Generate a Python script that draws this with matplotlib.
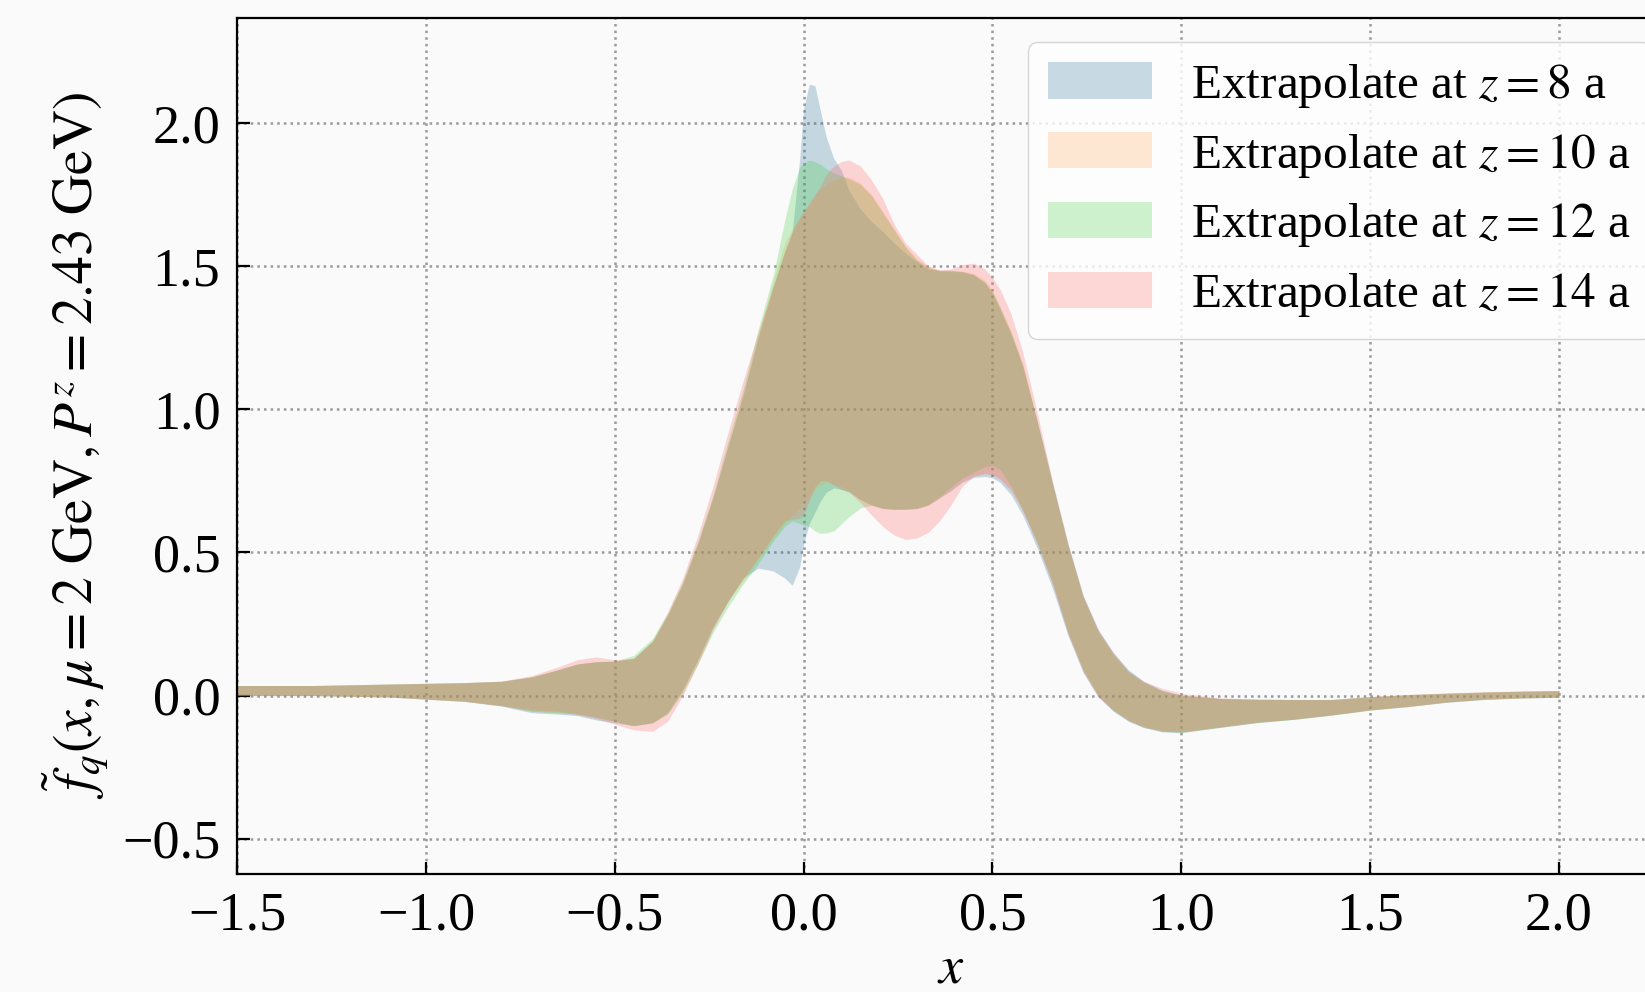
import numpy as np
import matplotlib.pyplot as plt

plt.rcParams['font.family'] = ['Liberation Serif', 'DejaVu Serif']
plt.rcParams['mathtext.fontset'] = 'stix'

# momentum fraction grid shared by all bands
x = np.array([-1.5, -1.3, -1.1, -0.9, -0.8, -0.72, -0.65, -0.6, -0.55, -0.5,
              -0.45, -0.4, -0.36, -0.32, -0.28, -0.24, -0.2, -0.16, -0.12, -0.08,
              -0.05, -0.03, -0.01, 0.0, 0.015, 0.03, 0.045, 0.06, 0.08, 0.1,
              0.12, 0.15, 0.18, 0.21, 0.24, 0.27, 0.3, 0.33, 0.36, 0.39,
              0.42, 0.45, 0.48, 0.5, 0.52, 0.55, 0.58, 0.62, 0.66, 0.7,
              0.74, 0.78, 0.82, 0.86, 0.9, 0.95, 1.0, 1.1, 1.2, 1.3,
              1.4, 1.5, 1.6, 1.7, 1.8, 1.9, 2.0])

# z = 8 a
up_z8 = [0.035, 0.035, 0.04, 0.045, 0.05, 0.065, 0.09, 0.11, 0.118, 0.12,
         0.13, 0.19, 0.28, 0.39, 0.53, 0.69, 0.87, 1.05, 1.25, 1.43,
         1.55, 1.62, 1.88, 2.05, 2.135, 2.13, 2.04, 1.95, 1.875, 1.835,
         1.765, 1.7, 1.655, 1.62, 1.58, 1.545, 1.515, 1.49, 1.485, 1.485,
         1.48, 1.47, 1.44, 1.405, 1.35, 1.26, 1.15, 0.95, 0.74, 0.53,
         0.35, 0.23, 0.15, 0.09, 0.05, 0.018, 0.002, -0.01, -0.013, -0.014,
         -0.014, -0.004, 0.003, 0.008, 0.012, 0.015, 0.017]
lo_z8 = [0.0, 0.0, -0.005, -0.02, -0.037, -0.06, -0.065, -0.07, -0.085, -0.095,
         -0.105, -0.095, -0.06, 0.02, 0.125, 0.24, 0.33, 0.41, 0.445, 0.435,
         0.41, 0.385, 0.45, 0.53, 0.6, 0.64, 0.68, 0.71, 0.725, 0.72,
         0.712, 0.685, 0.665, 0.653, 0.65, 0.65, 0.653, 0.665, 0.69, 0.715,
         0.745, 0.762, 0.765, 0.76, 0.745, 0.7, 0.63, 0.51, 0.37, 0.21,
         0.08, -0.005, -0.055, -0.09, -0.112, -0.127, -0.13, -0.112, -0.095, -0.083,
         -0.068, -0.051, -0.039, -0.024, -0.014, -0.009, -0.006]

# z = 10 a
up_z10 = [0.035, 0.035, 0.04, 0.045, 0.05, 0.065, 0.09, 0.11, 0.118, 0.12,
          0.13, 0.19, 0.28, 0.39, 0.53, 0.69, 0.87, 1.05, 1.26, 1.45,
          1.58, 1.63, 1.67, 1.69, 1.715, 1.745, 1.77, 1.785, 1.8, 1.81,
          1.81, 1.79, 1.75, 1.69, 1.63, 1.57, 1.525, 1.5, 1.487, 1.485,
          1.483, 1.475, 1.45, 1.415, 1.36, 1.27, 1.16, 0.95, 0.73, 0.52,
          0.34, 0.22, 0.14, 0.08, 0.045, 0.015, 0.0, -0.01, -0.013, -0.014,
          -0.014, -0.004, 0.003, 0.008, 0.012, 0.015, 0.017]
lo_z10 = [0.0, 0.0, -0.005, -0.02, -0.035, -0.055, -0.06, -0.065, -0.075, -0.09,
          -0.105, -0.095, -0.06, 0.02, 0.125, 0.24, 0.33, 0.4, 0.475, 0.55,
          0.6, 0.63, 0.655, 0.67, 0.695, 0.72, 0.735, 0.745, 0.74, 0.73,
          0.717, 0.685, 0.665, 0.653, 0.65, 0.65, 0.653, 0.665, 0.69, 0.72,
          0.75, 0.77, 0.776, 0.772, 0.76, 0.72, 0.65, 0.53, 0.39, 0.22,
          0.09, 0.0, -0.05, -0.085, -0.108, -0.123, -0.127, -0.11, -0.093, -0.082,
          -0.067, -0.05, -0.038, -0.023, -0.013, -0.008, -0.006]

# z = 12 a
up_z12 = [0.035, 0.035, 0.04, 0.045, 0.05, 0.065, 0.09, 0.11, 0.118, 0.12,
          0.14, 0.2, 0.29, 0.4, 0.54, 0.7, 0.89, 1.07, 1.28, 1.47,
          1.66, 1.77, 1.845, 1.86, 1.87, 1.865, 1.855, 1.84, 1.825, 1.815,
          1.805, 1.785, 1.745, 1.685, 1.625, 1.565, 1.52, 1.495, 1.483, 1.48,
          1.48, 1.47, 1.445, 1.41, 1.355, 1.265, 1.155, 0.95, 0.735, 0.525,
          0.345, 0.225, 0.145, 0.085, 0.048, 0.016, 0.001, -0.01, -0.013, -0.014,
          -0.014, -0.004, 0.003, 0.008, 0.012, 0.015, 0.017]
lo_z12 = [0.0, 0.0, -0.005, -0.02, -0.035, -0.055, -0.06, -0.065, -0.075, -0.09,
          -0.105, -0.095, -0.065, 0.01, 0.11, 0.22, 0.31, 0.39, 0.46, 0.54,
          0.59, 0.61, 0.6, 0.595, 0.59, 0.575, 0.566, 0.568, 0.575, 0.6,
          0.624, 0.655, 0.665, 0.655, 0.652, 0.652, 0.655, 0.668, 0.695, 0.728,
          0.76, 0.78, 0.8, 0.805, 0.79, 0.73, 0.65, 0.53, 0.39, 0.22,
          0.09, 0.0, -0.052, -0.088, -0.11, -0.125, -0.128, -0.111, -0.094, -0.083,
          -0.068, -0.05, -0.038, -0.023, -0.013, -0.008, -0.006]

# z = 14 a
up_z14 = [0.035, 0.035, 0.04, 0.045, 0.05, 0.07, 0.1, 0.125, 0.135, 0.125,
          0.13, 0.19, 0.29, 0.41, 0.56, 0.73, 0.92, 1.1, 1.27, 1.43,
          1.55, 1.62, 1.67, 1.69, 1.72, 1.75, 1.78, 1.82, 1.85, 1.865,
          1.87, 1.85, 1.8, 1.735, 1.645, 1.58, 1.54, 1.5, 1.485, 1.49,
          1.505, 1.51, 1.49, 1.46, 1.42, 1.33, 1.2, 0.98, 0.74, 0.53,
          0.35, 0.23, 0.15, 0.085, 0.05, 0.025, 0.008, -0.008, -0.012, -0.013,
          -0.013, -0.003, 0.004, 0.009, 0.013, 0.016, 0.018]
lo_z14 = [0.0, 0.0, -0.005, -0.02, -0.035, -0.05, -0.055, -0.065, -0.08, -0.1,
          -0.12, -0.125, -0.09, 0.0, 0.11, 0.23, 0.33, 0.41, 0.48, 0.56,
          0.61, 0.615, 0.62, 0.63, 0.68, 0.73, 0.75, 0.75, 0.735, 0.72,
          0.71, 0.675, 0.63, 0.59, 0.56, 0.545, 0.55, 0.57, 0.61, 0.665,
          0.73, 0.765, 0.775, 0.77, 0.755, 0.715, 0.645, 0.525, 0.385, 0.215,
          0.085, -0.005, -0.052, -0.087, -0.11, -0.124, -0.127, -0.11, -0.093, -0.082,
          -0.067, -0.05, -0.038, -0.023, -0.013, -0.008, -0.006]

bands = [
    ('Extrapolate at $z = 8$ a', lo_z8, up_z8, '#26729a'),
    ('Extrapolate at $z = 10$ a', lo_z10, up_z10, '#ffa656'),
    ('Extrapolate at $z = 12$ a', lo_z12, up_z12, '#3ace3a'),
    ('Extrapolate at $z = 14$ a', lo_z14, up_z14, '#ff6262'),
]

fig = plt.figure(figsize=(16.45, 9.92), dpi=100, facecolor='#fafafa')
ax = fig.add_axes([0.1441, 0.1190, 0.8679, 0.8631], facecolor='#fafafa')

for label, lo, up, color in bands:
    ax.fill_between(x, lo, up, color=color, alpha=0.25, linewidth=0, label=label)

ax.set_xlim(-1.5, 2.28)
ax.set_ylim(-0.623, 2.367)
ax.set_xticks([-1.5, -1.0, -0.5, 0.0, 0.5, 1.0, 1.5, 2.0])
ax.set_yticks([-0.5, 0.0, 0.5, 1.0, 1.5, 2.0])
ax.grid(True, linestyle=':', color='#999999', linewidth=1.8)
ax.set_axisbelow(True)
ax.tick_params(direction='in', length=9, width=1.6, labelsize=39, pad=12)
for s in ax.spines.values():
    s.set_linewidth(1.6)

ax.set_xlabel('$x$', fontsize=39, labelpad=2)
ax.set_ylabel(r'$\tilde{f}_q(x, \mu = 2\ \mathrm{GeV}, P^z = 2.43\ \mathrm{GeV})$',
              fontsize=40, labelpad=8)

ax.legend(loc='upper left', bbox_to_anchor=(1028 / 1645, 1 - 42 / 992),
          bbox_transform=fig.transFigure, borderaxespad=0, fontsize=35.6,
          frameon=True, fancybox=True, framealpha=0.8, edgecolor='#cccccc',
          handlelength=2.1, handleheight=0.75, labelspacing=0.44)

fig.savefig('out.png', dpi=100, facecolor=fig.get_facecolor())
